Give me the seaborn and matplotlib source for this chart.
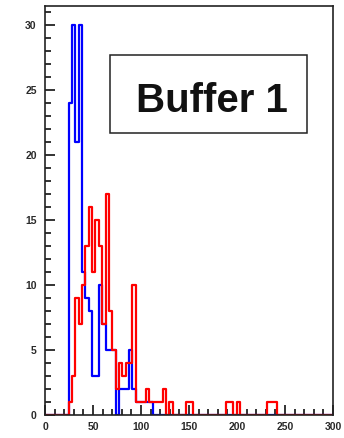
"""Buffer 1 timing histogram (blue vs red)"""

import numpy as np
import pandas as pd
import matplotlib

matplotlib.use("Agg")
import matplotlib.pyplot as plt
import seaborn as sns
from matplotlib.patches import Rectangle
from matplotlib.ticker import MultipleLocator

# histogram binning: 3.5 wide bins from 0, first filled bin is #7 (24.5 - 28)
bin_width = 3.5
first_bin = 7

# bin contents, starting at first_bin
blue_counts = [24, 30, 21, 30, 11, 9, 8, 3, 3, 10,
               7, 5, 5, 5, 0, 2, 2, 2, 5, 2,
               1, 1, 1, 1, 1]
red_counts = [1, 3, 9, 7, 10, 13, 16, 11, 15, 13,
              7, 17, 8, 5, 2, 4, 3, 4, 4, 10,
              1, 1, 1, 2, 1, 1, 1, 1, 2, 0,
              1, 0, 0, 0, 0, 1, 1, 0, 0, 0,
              0, 0, 0, 0, 0, 0, 0, 1, 1, 0,
              1, 0, 0, 0, 0, 0, 0, 0, 0, 1,
              1, 1]

x_ticks = [0, 50, 100, 150, 200, 250, 300]
y_ticks = [0, 5, 10, 15, 20, 25, 30]
label = "Buffer 1"

sns.set_style("ticks")
plt.rcParams["font.family"] = ["Liberation Sans", "DejaVu Sans"]

edges = np.arange(0, 305, bin_width)
centers = edges[:-1] + bin_width / 2


def hist_frame(counts):
    w = np.zeros(len(centers))
    w[first_bin:first_bin + len(counts)] = counts
    return pd.DataFrame({"x": centers, "w": w})


fig = plt.figure(figsize=(3.44, 4.38), dpi=100)
ax = fig.add_axes([0.131, 0.0525, 0.837, 0.934])

sns.histplot(data=hist_frame(blue_counts), x="x", weights="w", bins=edges.tolist(),
             element="step", fill=False, color="#0000ff", linewidth=1.6, ax=ax)
sns.histplot(data=hist_frame(red_counts), x="x", weights="w", bins=edges.tolist(),
             element="step", fill=False, color="#ff0000", linewidth=1.6, ax=ax)

ax.set_xlim(0, 300)
ax.set_ylim(0, 31.5)
ax.set_xlabel("")
ax.set_ylabel("")
ax.set_xticks(x_ticks)
ax.set_yticks(y_ticks)
ax.xaxis.set_minor_locator(MultipleLocator(10))
ax.yaxis.set_minor_locator(MultipleLocator(1))
ax.tick_params(which="both", direction="in", top=False, right=False,
               color="#111111", width=1.2, labelsize=7.5, labelcolor="#2a2a2a")
ax.tick_params(which="major", length=7.5)
ax.tick_params(which="minor", length=4.5)
ax.tick_params(axis="y", pad=6)
ax.tick_params(axis="x", pad=5)
for lbl in ax.get_xticklabels() + ax.get_yticklabels():
    lbl.set_fontweight("bold")

for side in ["left", "right", "top", "bottom"]:
    ax.spines[side].set_visible(True)
    ax.spines[side].set_color("#222222")
    ax.spines[side].set_linewidth(1.2)

# title box
ax.add_patch(Rectangle((0.226, 0.689), 0.684, 0.191, transform=ax.transAxes,
                       facecolor="white", edgecolor="#222222", linewidth=1.1,
                       zorder=5))
ax.text(0.579, 0.7416, label, transform=ax.transAxes, ha="center",
        va="baseline", fontsize=29, fontweight="bold", color="#111111",
        zorder=6)

fig.savefig("out.png", dpi=100)
